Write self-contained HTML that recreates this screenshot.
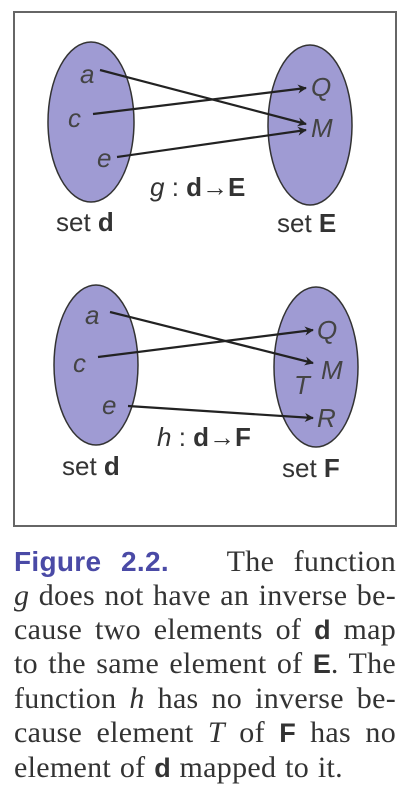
<!DOCTYPE html>
<html><head><meta charset="utf-8"><style>
body{margin:0;width:411px;height:793px;background:#fff;overflow:hidden;position:relative;font-family:"Liberation Serif",serif;}
.ln{position:absolute;left:14px;width:382px;font-size:30px;line-height:34px;color:#333;text-align:justify;text-align-last:justify;white-space:nowrap;letter-spacing:0.3px;}
.ln.last{text-align-last:left;word-spacing:1px;}
.sf{font-family:"Liberation Sans",sans-serif;font-weight:bold;font-size:27px;letter-spacing:0;}
.fig{font-family:"Liberation Sans",sans-serif;font-weight:bold;color:#4a4aa6;font-size:28px;letter-spacing:0.3px;}
</style></head><body>
<svg width="411" height="540" style="position:absolute;left:0;top:0" font-family="Liberation Sans, sans-serif">
<defs><marker id="ah" viewBox="0 0 10 10" refX="9" refY="5" markerWidth="14" markerHeight="9" orient="auto" markerUnits="userSpaceOnUse"><path d="M0,0L10,5L0,10L3,5z" fill="#222"/></marker></defs>
<rect x="14" y="12" width="382" height="514" fill="none" stroke="#666" stroke-width="2"/>
<g>
<ellipse cx="91" cy="122" rx="43" ry="80" fill="#9f9bd3" stroke="#333" stroke-width="1.5"/>
<ellipse cx="310" cy="125" rx="42" ry="80" fill="#9f9bd3" stroke="#333" stroke-width="1.5"/>
<g font-style="italic" font-size="26" fill="#444">
<text x="80" y="83">a</text><text x="68" y="127">c</text><text x="97" y="167">e</text>
<text x="311" y="96">Q</text><text x="311" y="137">M</text></g>
<g stroke="#222" stroke-width="2.2" marker-end="url(#ah)">
<line x1="100" y1="70" x2="306" y2="124"/><line x1="93" y1="114" x2="306" y2="88"/><line x1="117" y1="157" x2="306" y2="130"/></g>
<text x="150" y="196" font-size="26" fill="#333"><tspan font-style="italic">g</tspan> : <tspan font-weight="bold">d</tspan>→<tspan font-weight="bold">E</tspan></text>
<text x="56" y="231" font-size="26" fill="#333">set <tspan font-weight="bold">d</tspan></text>
<text x="277" y="232" font-size="26" fill="#333">set <tspan font-weight="bold">E</tspan></text>
</g>
<g>
<ellipse cx="96" cy="365" rx="42" ry="80" fill="#9f9bd3" stroke="#333" stroke-width="1.5"/>
<ellipse cx="316" cy="367" rx="42" ry="80" fill="#9f9bd3" stroke="#333" stroke-width="1.5"/>
<g font-style="italic" font-size="26" fill="#444">
<text x="85" y="324">a</text><text x="73" y="372">c</text><text x="102" y="414">e</text>
<text x="317" y="339">Q</text><text x="321" y="379">M</text><text x="294" y="394">T</text><text x="317" y="427">R</text></g>
<g stroke="#222" stroke-width="2.2" marker-end="url(#ah)">
<line x1="110" y1="312" x2="313" y2="363"/><line x1="98" y1="357" x2="313" y2="330"/><line x1="128" y1="406" x2="313" y2="418"/></g>
<text x="157" y="446" font-size="26" fill="#333"><tspan font-style="italic">h</tspan> : <tspan font-weight="bold">d</tspan>→<tspan font-weight="bold">F</tspan></text>
<text x="62" y="475" font-size="26" fill="#333">set <tspan font-weight="bold">d</tspan></text>
<text x="282" y="477" font-size="26" fill="#333">set <tspan font-weight="bold">F</tspan></text>
</g>
</svg>
<div>
<div class="ln" style="top:545px"><span class="fig">Figure 2.2.</span> &nbsp; The function</div>
<div class="ln" style="top:579px"><i>g</i> does not have an inverse be-</div>
<div class="ln" style="top:613px">cause two elements of <span class="sf">d</span> map</div>
<div class="ln" style="top:647px">to the same element of <span class="sf">E</span>. The</div>
<div class="ln" style="top:682px">function <i>h</i> has no inverse be-</div>
<div class="ln" style="top:716px">cause element <i>T</i> of <span class="sf">F</span> has no</div>
<div class="ln last" style="top:751px">element of <span class="sf">d</span> mapped to it.</div>
</div>
</body></html>
